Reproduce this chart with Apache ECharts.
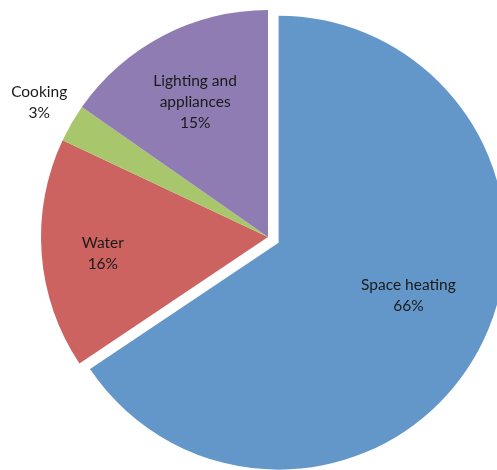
<!DOCTYPE html>
<html>
<head>
<meta charset="utf-8">
<script src="https://cdn.jsdelivr.net/npm/echarts@6/dist/echarts.min.js"></script>
<style>
html,body{margin:0;padding:0;background:#fff;}
#c{width:497px;height:470px;}
</style>
</head>
<body>
<div id="c"></div>
<script>
const categories = ['Space heating', 'Water', 'Cooking', 'Lighting and\nappliances'];
const values = [65.6, 16.4, 2.7, 15.3];
const colors = ['#6497C9', '#CC6360', '#A8C66C', '#8E7CB3'];
// label nudges from the default inside position (layout only)
const labelShift = [[27, -2], [-49, 8], [-128, -76], [-19, -32]];

const chart = echarts.init(document.getElementById('c'), null, {renderer: 'canvas'});
chart.setOption({
  animation: false,
  backgroundColor: '#fff',
  series: [{
    type: 'pie',
    center: [268, 237],
    radius: 227,
    startAngle: 90,
    clockwise: true,
    selectedMode: 'single',
    selectedOffset: 12,
    avoidLabelOverlap: false,
    label: {
      show: true,
      position: 'inside',
      formatter: p => p.name + '\n' + Math.round(p.value) + '%',
      fontFamily: 'Lato',
      fontSize: 15.5,
      lineHeight: 21,
      color: '#1a1a1a',
      align: 'center'
    },
    labelLine: {show: false},
    emphasis: {disabled: true},
    labelLayout: p => ({dx: labelShift[p.dataIndex][0], dy: labelShift[p.dataIndex][1]}),
    data: categories.map((c, i) => ({
      name: c,
      value: values[i],
      selected: i === 0,
      itemStyle: {color: colors[i]}
    }))
  }]
});
</script>
</body>
</html>
